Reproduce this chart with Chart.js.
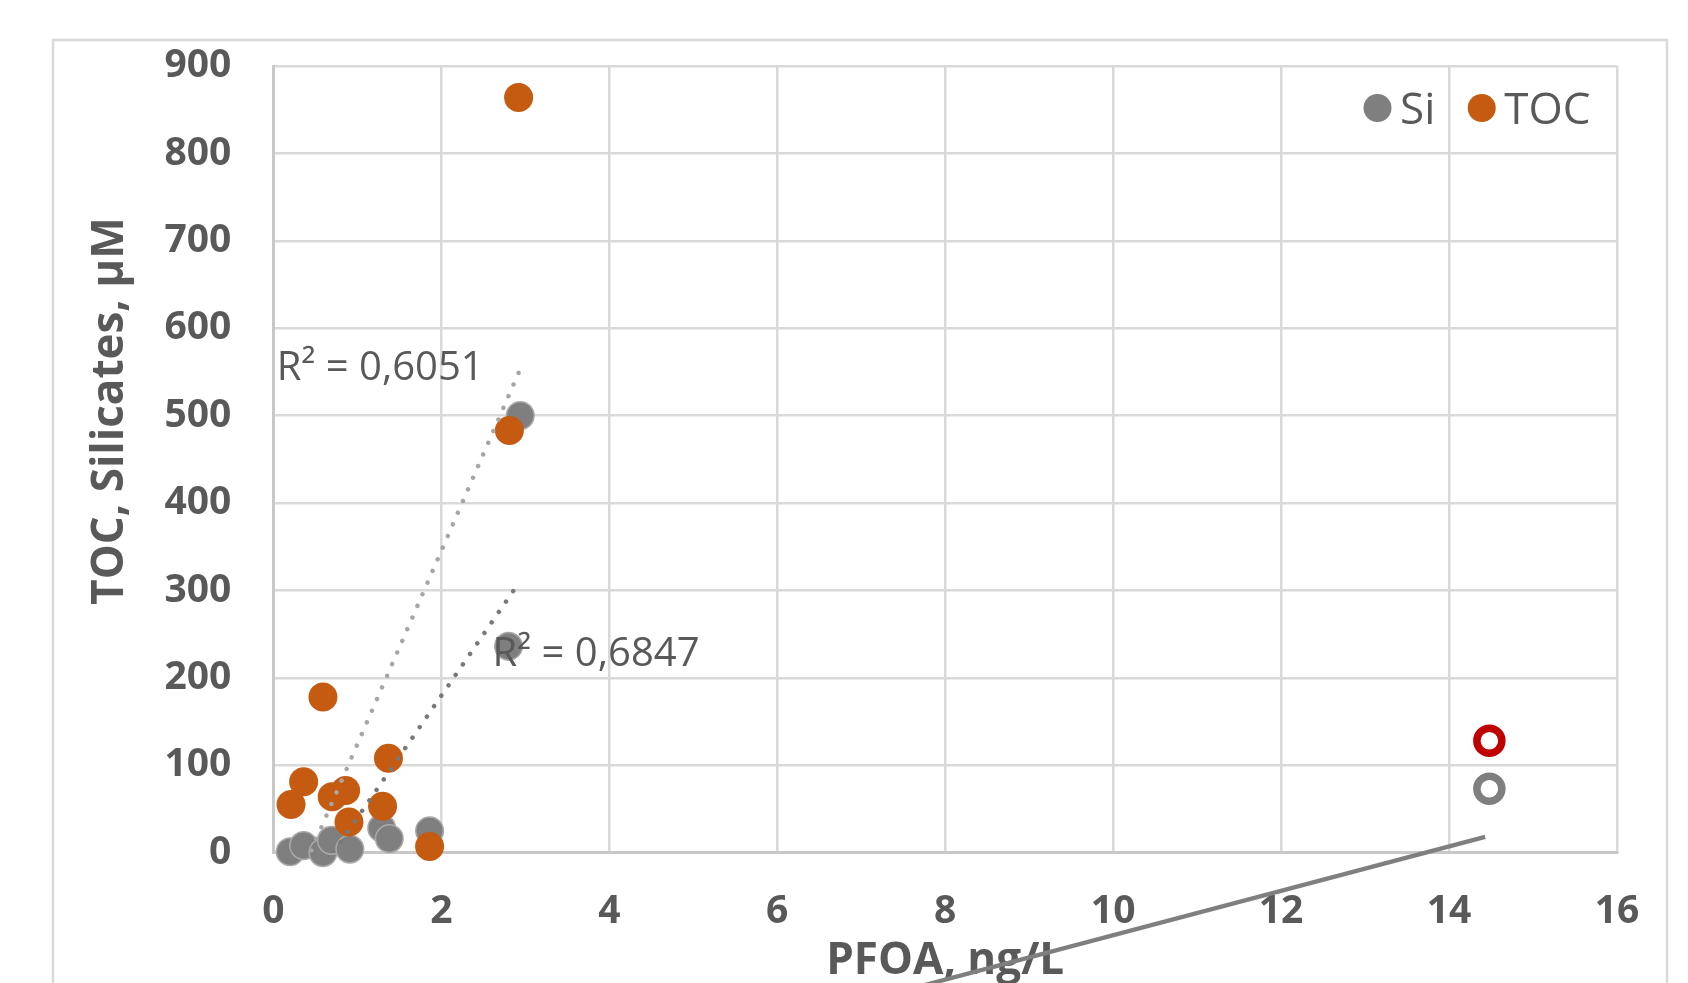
<!DOCTYPE html>
<html>
<head>
<meta charset="utf-8">
<script src="https://cdn.jsdelivr.net/npm/chart.js@4.4.1/dist/chart.umd.min.js"></script>
<style>
  html, body { margin: 0; padding: 0; background: #fff; overflow: hidden; }
  #wrap { width: 1688px; height: 983px; overflow: hidden; }
</style>
</head>
<body>
<div id="wrap"><canvas id="chart" width="1688" height="1040"></canvas></div>
<script>
// values: PFOA (ng/L) against TOC / silicates (µM)
const siX = [0.20, 0.36, 0.59, 0.69, 0.91, 1.29, 1.38, 1.86, 2.80, 2.94];
const siY = [1, 8, 0, 14, 4, 28, 16, 25, 236, 500];

const tocX = [0.21, 0.36, 0.59, 0.70, 0.86, 0.90, 1.30, 1.37, 1.86, 2.81, 2.92];
const tocY = [55, 81, 178, 64, 71, 35, 53, 108, 7, 483, 864];

// the two hollow points at the far right
const siOutX = [14.48];
const siOutY = [73];
const tocOutX = [14.48];
const tocOutY = [128];

// linear trendlines (end points as drawn)
const siTrendX = [0.20, 2.94];
const siTrendY = [-72, 311];
const tocTrendX = [0.21, 2.92];
const tocTrendY = [-51, 549];

const r2Text = ['R² = 0,6051', 'R² = 0,6847'];
const r2X = [0.04, 2.61];
const r2Y = [541, 213];

// grey connector line running off the bottom of the figure
const connX = [14.43, 5.3];
const connY = [18, -214];

const FONT = "'Open Sans', sans-serif";
const TEXT = '#595959';

const pts = (xs, ys) => xs.map((x, i) => ({ x: x, y: ys[i] }));

Chart.defaults.font.family = FONT;
Chart.defaults.color = TEXT;

// outer frame of the figure
const frame = {
  id: 'frame',
  beforeDraw(chart) {
    const ctx = chart.ctx;
    ctx.save();
    ctx.strokeStyle = '#d9d9d9';
    ctx.lineWidth = 2.5;
    ctx.strokeRect(53, 40, 1614, 1100);
    ctx.restore();
  }
};

// R² labels next to the trendlines
const r2Labels = {
  id: 'r2Labels',
  afterDatasetsDraw(chart) {
    const { ctx, scales } = chart;
    ctx.save();
    ctx.font = '40px ' + FONT;
    ctx.fillStyle = TEXT;
    ctx.textAlign = 'left';
    ctx.textBaseline = 'alphabetic';
    r2Text.forEach((t, i) => {
      ctx.fillText(t, scales.x.getPixelForValue(r2X[i]), scales.y.getPixelForValue(r2Y[i]));
    });
    ctx.restore();
  }
};

// legend sits inside the plot, top right; y title is off-centre
const extras = {
  id: 'extras',
  afterDraw(chart) {
    const { ctx, chartArea } = chart;
    ctx.save();
    ctx.font = '44px ' + FONT;
    ctx.textBaseline = 'alphabetic';
    let x = chartArea.right - 254;
    const cy = chartArea.top + 42;
    chart.data.datasets.filter(d => d.inLegend).forEach(d => {
      ctx.beginPath();
      ctx.arc(x + 14.5, cy, 14, 0, Math.PI * 2);
      ctx.fillStyle = d.backgroundColor;
      ctx.fill();
      ctx.fillStyle = TEXT;
      ctx.fillText(d.label, x + 37, cy + 15.7);
      x += 37 + ctx.measureText(d.label).width + 32;
    });

    ctx.translate(chartArea.left - 150, chartArea.top + 345);
    ctx.rotate(-Math.PI / 2);
    ctx.font = 'bold 44px ' + FONT;
    ctx.textAlign = 'center';
    ctx.fillStyle = TEXT;
    ctx.fillText('TOC, Silicates, µM', 0, 0);
    ctx.restore();
  }
};

const dots = { borderCapStyle: 'round', borderDash: [0.001, 12.7], borderWidth: 4.5, pointRadius: 0, fill: false };

new Chart(document.getElementById('chart'), {
  type: 'scatter',
  data: {
    datasets: [
      { label: 'Si', inLegend: true, data: pts(siX, siY), backgroundColor: '#7f7f7f',
        borderColor: '#a9a9a9', borderWidth: 1.5, pointRadius: 13.8, clip: false, order: 5 },
      { label: 'TOC', inLegend: true, data: pts(tocX, tocY), backgroundColor: '#c55a11',
        borderColor: '#c55a11', borderWidth: 0, pointRadius: 14.5, clip: false, order: 4 },
      { label: 'Si (excluded)', data: pts(siOutX, siOutY), backgroundColor: '#ffffff',
        borderColor: '#7f7f7f', borderWidth: 7.5, pointRadius: 12.5, order: 3 },
      { label: 'TOC (excluded)', data: pts(tocOutX, tocOutY), backgroundColor: '#ffffff',
        borderColor: '#c00000', borderWidth: 7.5, pointRadius: 12.5, order: 3 },
      Object.assign({ type: 'line', label: 'Si trend', data: pts(siTrendX, siTrendY),
        borderColor: '#787878', order: 1 }, dots),
      Object.assign({ type: 'line', label: 'TOC trend', data: pts(tocTrendX, tocTrendY),
        borderColor: '#a6a6a6', order: 2 }, dots),
      { type: 'line', label: 'connector', data: pts(connX, connY), borderColor: '#7f7f7f',
        borderWidth: 4.2, pointRadius: 0, fill: false, clip: false, order: 0 }
    ]
  },
  options: {
    responsive: false,
    animation: false,
    events: [],
    layout: { padding: { left: 60, right: 71, top: 66, bottom: 51.8 } },
    plugins: { legend: { display: false }, tooltip: { enabled: false } },
    scales: {
      x: {
        type: 'linear', min: 0, max: 16,
        ticks: { stepSize: 2, padding: 36, color: TEXT, font: { size: 39, weight: 'bold' } },
        grid: { color: '#d9d9d9', lineWidth: 2.5, drawTicks: false },
        border: { color: '#c8c8c8', width: 3 },
        title: { display: true, text: 'PFOA, ng/L', color: TEXT, padding: { top: 0, bottom: 0 },
                 font: { size: 44, weight: 'bold' } },
        afterFit: s => { s.height = 135.6; }
      },
      y: {
        min: 0, max: 900,
        ticks: { stepSize: 100, padding: 42, color: TEXT, font: { size: 39, weight: 'bold' } },
        grid: { color: '#d9d9d9', lineWidth: 2.5, drawTicks: false },
        border: { color: '#c8c8c8', width: 3 },
        afterFit: s => { s.width = 213.4; }
      }
    }
  },
  plugins: [frame, r2Labels, extras]
});
</script>
</body>
</html>
